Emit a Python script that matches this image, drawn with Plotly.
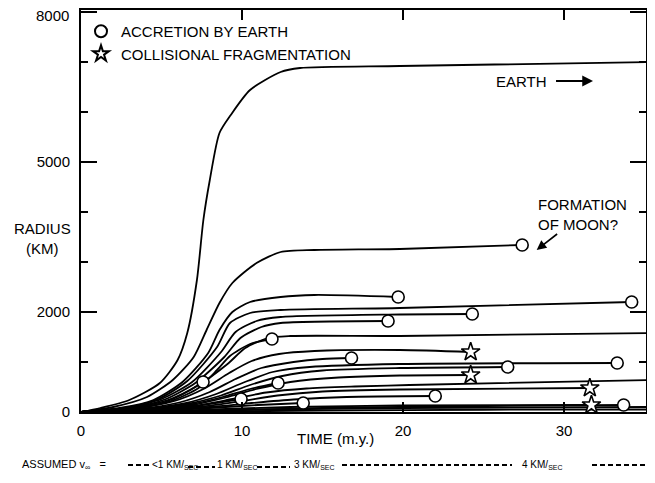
import plotly.graph_objects as go

# ---- data (time in m.y., radius in km) ----
earth_t = [0, 1.2, 3.0, 4.9, 6.0, 6.6, 7.2, 7.6, 8.0, 8.6, 9.3, 10.5, 12.4, 13.6, 19.8, 35.4]
earth_r = [0, 80, 240, 580, 1040, 1580, 2640, 3840, 4640, 5580, 5940, 6440, 6800, 6880, 6920, 7000]

moon_t = [0, 2.0, 4.1, 5.7, 7.0, 7.8, 8.6, 9.4, 10.9, 12.4, 14.5, 19.8, 27.4]
moon_r = [0, 100, 300, 640, 1100, 1640, 2180, 2580, 2980, 3200, 3240, 3260, 3340]

a_t = [0, 2.4, 4.5, 6.3, 7.9, 8.6, 9.4, 10.5, 12.4, 14.5, 19.7]
a_r = [0, 80, 240, 600, 1180, 1640, 2000, 2200, 2300, 2340, 2300]
b_t = [0, 2.7, 4.8, 6.6, 8.45, 9.25, 10.5, 12.4, 19.8, 34.2]
b_r = [0, 80, 260, 620, 1300, 1780, 1980, 2040, 2080, 2200]
c_t = [0, 2.9, 5.0, 6.9, 8.7, 9.6, 10.9, 12.4, 19.8, 24.3]
c_r = [0, 80, 260, 600, 1200, 1600, 1820, 1900, 1950, 1960]
d_t = [0, 3.0, 5.2, 7.1, 8.9, 9.9, 11.2, 12.4, 19.07]
d_r = [0, 80, 250, 580, 1100, 1480, 1700, 1780, 1820]
e_t = [0, 3.1, 5.4, 7.3, 9.1, 10.2, 11.6, 13.0, 19.8, 35.4]
e_r = [0, 80, 240, 540, 960, 1280, 1480, 1520, 1520, 1580]
f_t = [0, 3.3, 5.6, 7.3, 8.45, 9.25, 10.5, 11.86]
f_r = [0, 70, 220, 480, 840, 1120, 1360, 1460]
g_t = [0, 3.4, 5.8, 7.6, 9.2, 10.6, 12.3, 14.5, 19.8, 24.2]
g_r = [0, 70, 220, 460, 780, 1020, 1160, 1220, 1240, 1200]
p_t = [0, 3.6, 6.1, 8.0, 9.6, 11.2, 13.2, 15.0, 16.8]
p_r = [0, 60, 190, 400, 660, 880, 1000, 1060, 1080]
h_t = [0, 3.8, 6.4, 8.4, 10.1, 11.9, 14.2, 19.8, 33.3]
h_r = [0, 55, 170, 360, 590, 800, 900, 960, 980]
i_t = [0, 3.9, 6.6, 8.7, 10.5, 12.5, 15.0, 19.8, 26.5]
i_r = [0, 50, 160, 330, 540, 720, 830, 880, 900]
j_t = [0, 4.0, 6.9, 9.0, 10.9, 13.0, 16.0, 19.8, 24.2]
j_r = [0, 45, 140, 290, 460, 600, 690, 730, 740]
q_t = [0, 3.0, 5.0, 5.7, 6.8, 7.58]
q_r = [0, 60, 180, 260, 440, 600]
r_t = [0, 4.0, 6.8, 8.8, 10.5, 12.24]
r_r = [0, 40, 150, 300, 460, 580]
k_t = [0, 4.2, 7.2, 9.4, 11.5, 14.0, 17.0, 20.4, 35.4]
k_r = [0, 40, 130, 260, 390, 470, 510, 540, 640]
l_t = [0, 4.4, 7.6, 10.0, 12.2, 15.0, 19.8, 31.6]
l_r = [0, 35, 110, 220, 330, 410, 450, 480]
m_t = [0, 4.6, 8.0, 10.6, 13.2, 16.5, 22.0]
m_r = [0, 30, 100, 180, 250, 300, 320]
s_t = [0, 4.5, 7.2, 8.6, 9.94]
s_r = [0, 35, 120, 190, 260]
tt_t = [0, 4.8, 8.0, 11.0, 13.8]
tt_r = [0, 25, 80, 140, 180]
n_t = [0, 5.0, 9.0, 13.0, 19.8, 31.7]
n_r = [0, 20, 60, 100, 130, 140]
o_t = [0, 5.5, 10.0, 15.0, 22.0, 31.7, 33.7]
o_r = [0, 15, 45, 80, 110, 135, 140]
u_t = [0, 6.0, 12.0, 20.0, 35.4]
u_r = [0, 20, 50, 80, 100]
v_t = [0, 8.0, 15.0, 25.0, 35.4]
v_r = [0, 10, 30, 45, 50]

# end of each track: accreted by Earth (circle), fragmented (star) or none
curves = [
    (earth_t, earth_r, "none"), (moon_t, moon_r, "circle"),
    (a_t, a_r, "circle"), (b_t, b_r, "circle"), (c_t, c_r, "circle"),
    (d_t, d_r, "circle"), (e_t, e_r, "none"), (f_t, f_r, "circle"),
    (g_t, g_r, "star"), (p_t, p_r, "circle"), (h_t, h_r, "circle"),
    (i_t, i_r, "circle"), (j_t, j_r, "star"), (q_t, q_r, "circle"),
    (r_t, r_r, "circle"), (k_t, k_r, "none"), (l_t, l_r, "star"),
    (m_t, m_r, "circle"), (s_t, s_r, "circle"), (tt_t, tt_r, "circle"),
    (n_t, n_r, "star"), (o_t, o_r, "circle"), (u_t, u_r, "none"),
    (v_t, v_r, "none"),
]

x_ticks = [0, 10, 20, 30]
y_ticks = [0, 2000, 5000, 8000]
y_ticktext = ["0", "2000", "5000", ""]   # top label drawn separately below
y_top_label = "8000"
y_minor = [1000, 3000, 4000, 6000, 7000]
legend_labels = ["ACCRETION BY EARTH", "COLLISIONAL FRAGMENTATION"]
velocity_labels = ["&lt;1 KM/<sub>SEC</sub>", "1 KM/<sub>SEC</sub>",
                   "3 KM/<sub>SEC</sub>", "4 KM/<sub>SEC</sub>"]

# ---- layout (the page body adds an 8 px offset; keep the div inside the window) ----
OFF = 8
W, H = 639, 463
ML, MT = 81 - OFF, 10 - OFF
PR, PB = 646 - OFF, 412 - OFF
MR, MB = W - PR, H - PB
PW, PH = PR - ML, PB - MT
X_MAX = 35.4 * PW / 570.0   # keep 16.1 px per m.y.


def px(x, y):
    """page pixel -> paper coordinates"""
    return (x - OFF - ML) / PW, (PB - (y - OFF)) / PH


FONT = "Liberation Sans, Arial, sans-serif"
fig = go.Figure()

for t, r, end in curves:
    fig.add_trace(go.Scatter(x=t, y=r, mode="lines", showlegend=False,
                             line=dict(color="black", width=1.8,
                                       shape="spline", smoothing=0.7),
                             hoverinfo="skip"))

circ_x = [c[0][-1] for c in curves if c[2] == "circle"]
circ_y = [c[1][-1] for c in curves if c[2] == "circle"]
star_x = [c[0][-1] for c in curves if c[2] == "star"]
star_y = [c[1][-1] for c in curves if c[2] == "star"]

fig.add_trace(go.Scatter(x=circ_x, y=circ_y, mode="markers", name=legend_labels[0],
                         marker=dict(symbol="circle", size=12, color="white",
                                     line=dict(color="black", width=1.6))))
fig.add_trace(go.Scatter(x=star_x, y=star_y, mode="markers", name=legend_labels[1],
                         marker=dict(symbol="star", size=14, color="white",
                                     line=dict(color="black", width=1.6))))


def note(text, x, y, size=15, xanchor="center"):
    xp, yp = px(x, y)
    return dict(text=text, x=xp, y=yp, xref="paper", yref="paper",
                xanchor=xanchor, yanchor="middle", showarrow=False,
                font=dict(size=size, family=FONT, color="black"))


annotations = [
    note(y_top_label, 71, 15, xanchor="right"),
    note("RADIUS<br>(KM)", 42.5, 238),
    note("TIME (m.y.)", 335.5, 438),
    note("ASSUMED v<sub>∞</sub>   =", 20, 465, size=11, xanchor="left"),
]
for lab, xp in zip(velocity_labels, [150, 215, 292, 520]):
    annotations.append(note(lab, xp, 465, size=10, xanchor="left"))

annotations.append(dict(text="EARTH", x=31.8, y=6620, xref="x", yref="y",
                        ax=-72, ay=0, showarrow=True, arrowhead=2, arrowsize=1.2,
                        arrowwidth=1.8, arrowcolor="black", startstandoff=8,
                        font=dict(size=15, family=FONT, color="black")))
annotations.append(dict(text="FORMATION<br>OF MOON?", x=28.3, y=3240, xref="x", yref="y",
                        ax=46, ay=-36, showarrow=True, arrowhead=2, arrowsize=1.2,
                        arrowwidth=1.6, arrowcolor="black", align="left",
                        font=dict(size=15, family=FONT, color="black")))

shapes = []
for xa, xb, yy in [(128, 150, 465), (188, 215, 467), (257, 290, 467), (342, 512, 465), (592, 645, 465)]:
    xa_p, y_p = px(xa, yy)
    xb_p, _ = px(xb, yy)
    shapes.append(dict(type="line", xref="paper", yref="paper", x0=xa_p, x1=xb_p,
                       y0=y_p, y1=y_p, line=dict(color="black", width=2, dash="5px,3px")))

lx, ly = px(81, 15)
fig.update_layout(
    width=W, height=H, margin=dict(l=ML, r=MR, t=MT, b=MB, autoexpand=False),
    plot_bgcolor="white", paper_bgcolor="white",
    font=dict(family=FONT, size=15, color="black"),
    annotations=annotations, shapes=shapes,
    legend=dict(x=lx, y=ly, xanchor="left", yanchor="top",
                bgcolor="rgba(0,0,0,0)", font=dict(size=15, family=FONT),
                tracegroupgap=0, itemwidth=30, itemsizing="constant"),
    xaxis=dict(range=[0, X_MAX], tickvals=x_ticks, ticks="inside", ticklen=10,
               tickwidth=2, tickcolor="black", showline=True, linecolor="black",
               linewidth=2, mirror="ticks", showgrid=False, zeroline=False,
               automargin=False,
               ticklabelstandoff=4, tickfont=dict(size=15, family=FONT)),
    yaxis=dict(range=[0, 8040], tickvals=y_ticks, ticktext=y_ticktext,
               ticks="inside", ticklen=16,
               tickwidth=2, tickcolor="black", showline=True, linecolor="black",
               linewidth=2, mirror="ticks", showgrid=False, zeroline=False,
               automargin=False,
               ticklabelstandoff=6, tickfont=dict(size=15, family=FONT),
               minor=dict(tickvals=y_minor, ticks="inside", ticklen=7,
                          tickwidth=2, tickcolor="black", showgrid=False)),
)

fig.write_html("out.html")
